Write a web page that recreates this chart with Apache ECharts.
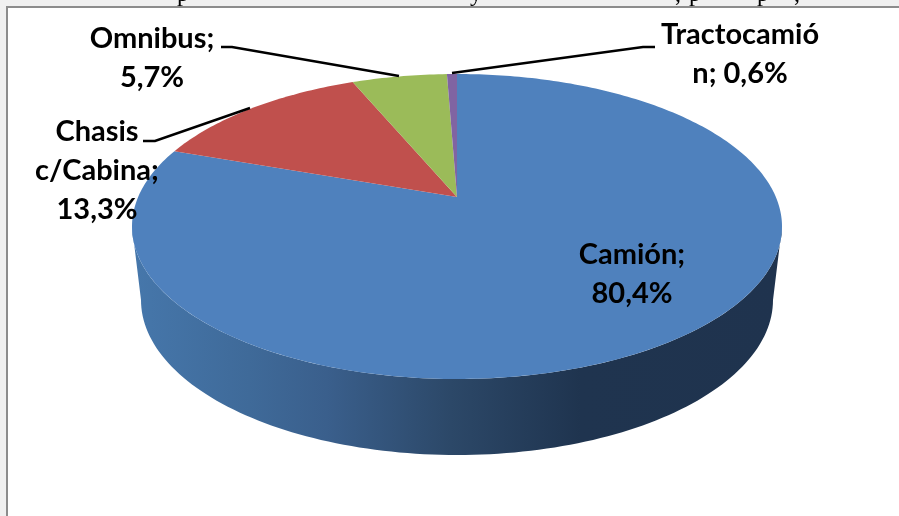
<!DOCTYPE html>
<html><head><meta charset="utf-8">
<style>html,body{margin:0;padding:0;background:#f0f0f0}#c{width:899px;height:516px}</style>
<script src="https://cdn.jsdelivr.net/npm/echarts@6/dist/echarts.min.js"></script>
</head><body><div id="c"></div>
<script>
const categories = ['Camión', 'Chasis c/Cabina', 'Omnibus', 'Tractocamión'];
const shares = [80.4, 13.3, 5.7, 0.6];
const sliceColors = ['#4f81bd', '#c0504d', '#9bbb59', '#8064a2'];
const labelLines = [['Camión;', '80,4%'], ['Chasis', 'c/Cabina;', '13,3%'], ['Omnibus;', '5,7%'], ['Tractocamió', 'n; 0,6%']];

// layout of the tilted disc
const TOP = {cx: 457, cy: 226.5, rx: 325, ry: 152.5};
const BOTTOM = {cx: 457, cy: 300, rx: 316, ry: 155};
const K = 0.193; // perspective shift of the disc centre
const labelAnchor = [[632, 255], [97, 132], [152, 39], [740, 35]];
const leaders = [null,
  [[143, 141], [155, 141], [250, 108]],
  [[221, 47], [232, 47], [399, 76]],
  [[655, 47], [643, 47], [452, 73]]];
const LINE_H = 39;

function project(t) {
  const u = Math.sin(t), v = Math.cos(t), d = 1 + K * v;
  return [TOP.cx + TOP.rx * u * Math.sqrt(1 - K * K) / d, TOP.cy - TOP.ry * (v + K) / d];
}
function ellipseArc(e, a0, a1, n) {
  const p = [];
  for (let i = 0; i <= n; i++) {
    const a = a0 + (a1 - a0) * i / n;
    p.push([e.cx + e.rx * Math.cos(a), e.cy + e.ry * Math.sin(a)]);
  }
  return p;
}
const total = shares.reduce((a, b) => a + b, 0);

function renderSlice(params, api) {
  const i = params.dataIndex;
  let before = 0;
  for (let j = 0; j < i; j++) before += shares[j];
  const t0 = before / total * 2 * Math.PI;
  const t1 = (before + api.value(1)) / total * 2 * Math.PI;
  const pts = [[TOP.cx, TOP.cy - TOP.ry * K]];
  const n = Math.max(4, Math.ceil((t1 - t0) * 60));
  for (let s = 0; s <= n; s++) pts.push(project(t0 + (t1 - t0) * s / n));
  const children = [];
  if (i === 0) {
    const side = ellipseArc(TOP, 0, Math.PI, 120).concat(ellipseArc(BOTTOM, Math.PI, 0, 120));
    children.push({
      type: 'polygon', shape: {points: side},
      style: {fill: new echarts.graphic.LinearGradient(0, 0, 1, 0, [
        {offset: 0, color: '#4677ab'},
        {offset: 0.18, color: '#3f6a99'},
        {offset: 0.3, color: '#3a5f8c'},
        {offset: 0.49, color: '#2c4868'},
        {offset: 0.69, color: '#1f344f'},
        {offset: 1, color: '#1f334e'}
      ])}
    });
  }
  children.push({type: 'polygon', shape: {points: pts}, style: {fill: sliceColors[i]}});
  return {type: 'group', children};
}

function renderLabel(params) {
  const i = params.dataIndex, children = [];
  if (leaders[i]) children.push({
    type: 'polyline', shape: {points: leaders[i]},
    style: {stroke: '#000', lineWidth: 2.5, fill: null}
  });
  labelLines[i].forEach((line, k) => children.push({
    type: 'text',
    style: {
      x: labelAnchor[i][0], y: labelAnchor[i][1] + k * LINE_H, text: line,
      font: '700 29px Lato', fill: '#000', align: 'center', verticalAlign: 'middle'
    }
  }));
  return {type: 'group', children};
}

const seriesData = categories.map((c, i) => [c, shares[i]]);
const chart = echarts.init(document.getElementById('c'), null, {renderer: 'canvas'});
const clipped = [['p', 183], ['y', 476], [',', 678], ['p', 695], ['p', 763], [',', 797]];
chart.setOption({
  animation: false,
  backgroundColor: 'transparent',
  graphic: [
    {type: 'rect', shape: {x: 0, y: 0, width: 899, height: 516}, style: {fill: '#f0f0f0'}},
    ...clipped.map(([t, x]) => ({
      type: 'text', x: x, y: -17,
      style: {text: t, font: '24px "Liberation Serif"', fill: '#000', align: 'center'}
    })),
    {type: 'rect', shape: {x: 7, y: 7, width: 900, height: 520}, style: {fill: '#ffffff', stroke: '#8c8c8c', lineWidth: 2}}
  ],
  series: [
    {type: 'custom', coordinateSystem: 'none', silent: true, data: seriesData, renderItem: renderSlice, z: 2},
    {type: 'custom', coordinateSystem: 'none', silent: true, data: seriesData, renderItem: renderLabel, z: 3}
  ]
});
</script></body></html>
